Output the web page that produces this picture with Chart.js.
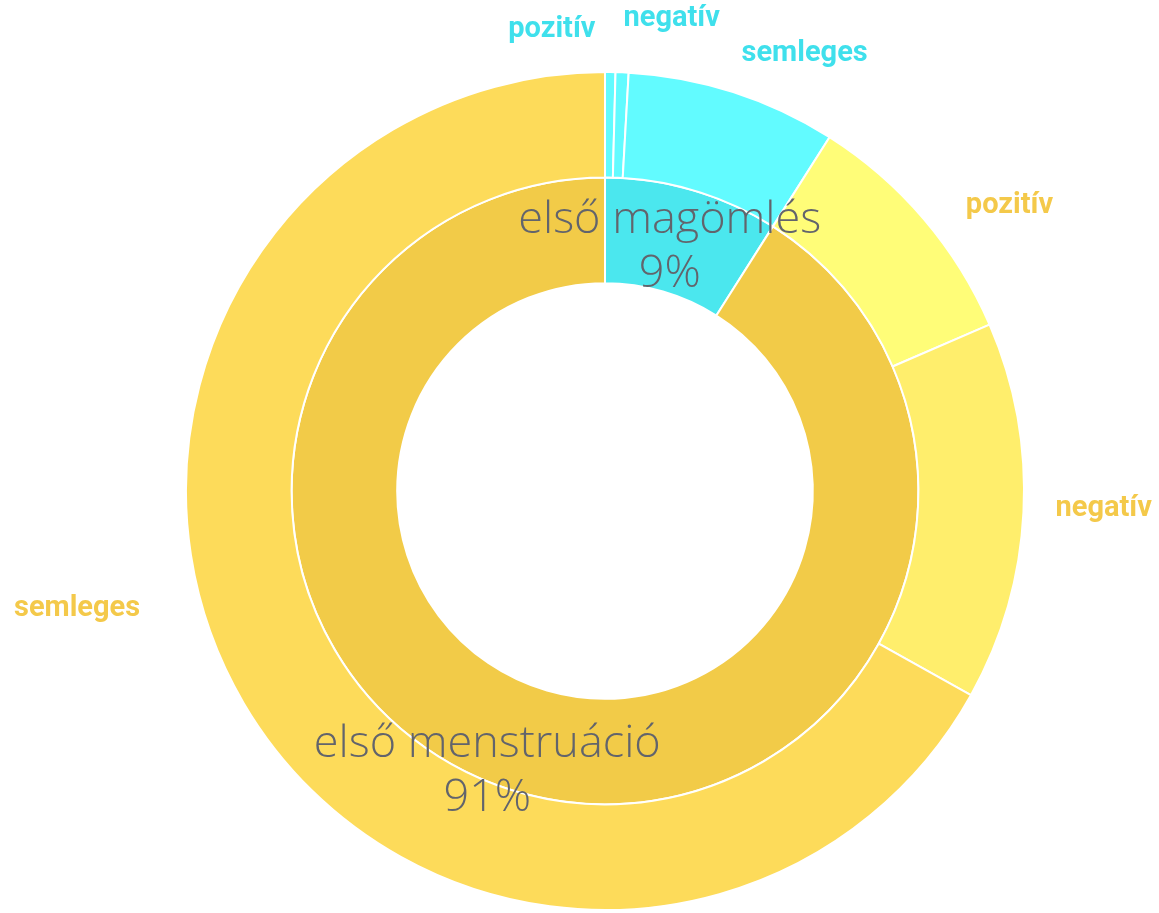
<!DOCTYPE html>
<html>
<head>
<meta charset="utf-8">
<script src="https://cdn.jsdelivr.net/npm/chart.js@4/dist/chart.umd.min.js"></script>
<style>
    html, body { margin: 0; padding: 0; background: #fff; }
    #wrap { width: 1159px; height: 913px; position: relative; }
</style>
</head>
<body>
<div id="wrap"><canvas id="chart"></canvas></div>
<script>
// inner ring: first experience
const innerCategories = ['első magömlés', 'első menstruáció'];
const innerValues = [9, 91];

// outer ring: how it felt
const outerCategories = ['pozitív', 'negatív', 'semleges', 'pozitív', 'negatív', 'semleges'];
const outerValues = [0.4, 0.5, 8.1, 9.5, 14.6, 66.9];

const innerColors = ['#4be7ee', '#f2cb48'];
const outerColors = ['#62fbff', '#62fbff', '#62fbff', '#fffd78', '#ffee6c', '#fddb5a'];
const outerLabelColors = ['#3fe0ec', '#3fe0ec', '#3fe0ec', '#f4c94a', '#f4c94a', '#f4c94a'];

// label placement: [angle shift in degrees, distance outside the ring]
const outerLabelNudge = [[-7.3, 45], [5.7, 58], [6.7, 62], [5.3, 76], [-0.8, 80], [17.8, 122]];
// inner labels: pixel shift from the arc centroid
const innerLabelNudge = [[-8, 6], [-45, 30]];

const ringLabels = {
    id: 'ringLabels',
    afterDatasetsDraw(chart) {
        const ctx = chart.ctx;
        ctx.save();
        ctx.textAlign = 'center';
        ctx.textBaseline = 'middle';

        // outer labels
        ctx.font = 'bold 29px Roboto';
        chart.getDatasetMeta(0).data.forEach((arc, i) => {
            const p = arc.getProps(['x', 'y', 'startAngle', 'endAngle', 'outerRadius'], true);
            const a = (p.startAngle + p.endAngle) / 2 + outerLabelNudge[i][0] * Math.PI / 180;
            const r = p.outerRadius + outerLabelNudge[i][1];
            ctx.fillStyle = outerLabelColors[i];
            ctx.fillText(outerCategories[i], p.x + r * Math.cos(a), p.y + r * Math.sin(a));
        });

        // inner labels
        ctx.font = '300 45px "Open Sans"';
        ctx.fillStyle = '#62646c';
        chart.getDatasetMeta(1).data.forEach((arc, i) => {
            const pos = arc.tooltipPosition(true);
            const x = pos.x + innerLabelNudge[i][0];
            const y = pos.y + innerLabelNudge[i][1];
            ctx.fillText(innerCategories[i], x, y - 27);
            ctx.fillText(innerValues[i] + '%', x, y + 27);
        });
        ctx.restore();
    }
};

new Chart(document.getElementById('chart').getContext('2d'), {
    type: 'doughnut',
    data: {
        labels: outerCategories,
        datasets: [{
            data: outerValues,
            backgroundColor: outerColors,
            borderColor: '#ffffff',
            borderWidth: 2
        }, {
            data: innerValues,
            backgroundColor: innerColors,
            borderColor: '#ffffff',
            borderWidth: 2
        }]
    },
    options: {
        responsive: true,
        maintainAspectRatio: false,
        animation: false,
        cutout: '49.6%',
        layout: { padding: { left: 185, right: 134, top: 71, bottom: 2 } },
        plugins: {
            legend: { display: false },
            tooltip: { enabled: false }
        }
    },
    plugins: [ringLabels]
});
</script>
</body>
</html>
